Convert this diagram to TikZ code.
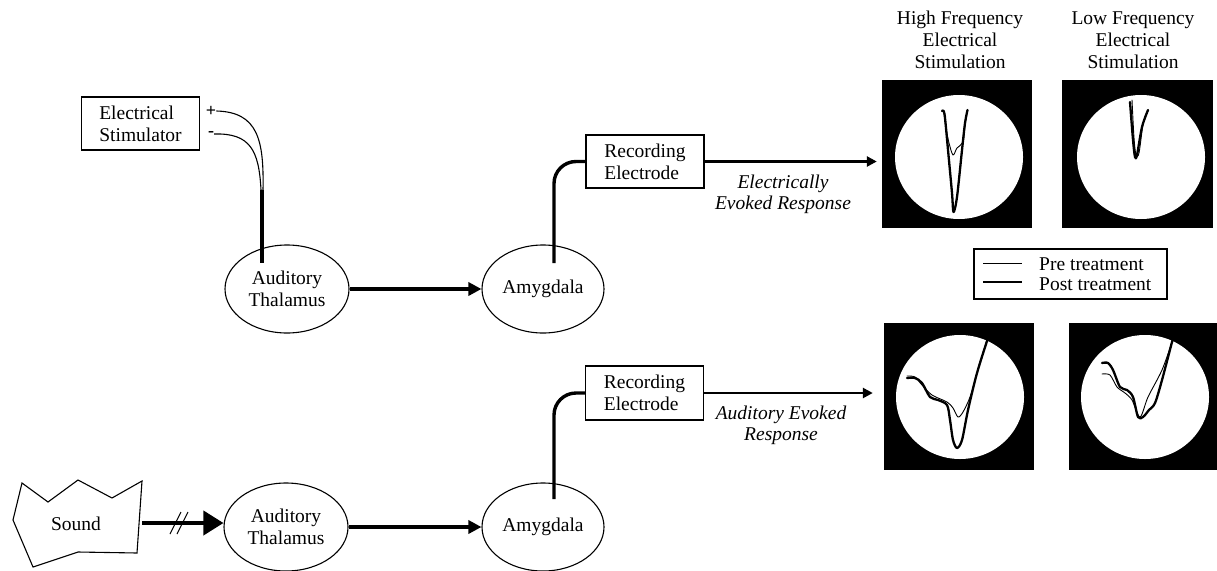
\documentclass[tikz,border=0pt]{standalone}
\usepackage{fontspec}
\setmainfont{Liberation Serif}
\usetikzlibrary{shapes.geometric,arrows.meta,calc}
\begin{document}
\begin{tikzpicture}[x=1pt,y=-1pt,
  txt/.style={font=\fontsize{19.5}{22}\selectfont, inner sep=0pt},
  itxt/.style={font=\fontsize{19.5}{21}\selectfont\itshape, inner sep=0pt, align=center},
  sign/.style={font=\fontsize{18}{18}\selectfont\bfseries, inner sep=0pt},
  brain/.style={ellipse, draw, line width=1.1pt, minimum width=124pt, minimum height=88pt, align=center, txt},
  boxnode/.style={draw, line width=1.1pt, align=left, txt, minimum height=53pt, minimum width=118pt},
  scopebox/.style={fill=black, minimum width=150pt, minimum height=148pt, inner sep=0pt},
  screen/.style={fill=white, ellipse, minimum width=128pt, minimum height=124pt, inner sep=0pt},
  wire/.style={line width=3.4pt},
  fine/.style={line width=1.1pt},
  bigarrow/.style={line width=3.8pt, -{Triangle[length=13pt,width=13pt]}},
  outarrow/.style={line width=2.6pt, -{Triangle[length=10pt,width=10pt]}},
  thicktrace/.style={line width=2.3pt, line join=round, line cap=round},
  thintrace/.style={line width=0.9pt, line join=round, line cap=round},
]
\useasboundingbox (0,0) rectangle (1217,570);

% ---------- top row ----------
\node[boxnode] (stim) at (140.5,123.5) {Electrical\\Stimulator};
\node[sign] (plus) at (211,111) {+};
\node[sign] (minus) at (211,134) {-};
\coordinate (junc) at (262,190);
\draw[fine] (plus.east) .. controls (258,112) and (264,140) .. (263,190);
\draw[fine] (minus.east) .. controls (250,133) and (259,150) .. (261,190);

\node[brain] (thal1) at (287,289) {Auditory\\Thalamus};
\node[brain, minimum width=122pt] (amyg1) at (543,289) {Amygdala};
\coordinate (thin1) at (262,263);
\draw[wire] (junc) -- (thin1);
\draw[bigarrow] (thal1.east) -- (amyg1.west);

\node[boxnode] (rec1) at (645,161.5) {Recording\\Electrode};
\coordinate (drop1) at (554,263);
\draw[wire, rounded corners=22pt] (rec1.west) -| (drop1);

\node[scopebox] (s1) at (957,154) {};
\node[scopebox, minimum width=151pt] (s2) at (1137.5,154) {};
\node[screen] (c1) at (959,157) {};
\node[screen] (c2) at (1141,157) {};
\draw[outarrow, shorten >=5pt] (rec1.east) -- (s1.west |- rec1.east);
\node[itxt] (lab1) at (783,194) {Electrically\\Evoked Response};

\node[txt, align=center] (t1) at (960,40) {High Frequency\\Electrical\\Stimulation};
\node[txt, align=center] (t2) at (1133,40) {Low Frequency\\Electrical\\Stimulation};

% HF traces
\draw[thicktrace] plot[smooth, tension=0.5] coordinates {(942,111) (944.5,114) (948,150) (952,193) (953.5,212) (957,197) (962,150) (965,123) (967.5,110)};
\draw[thintrace] plot[smooth, tension=0.5] coordinates {(944,113) (946,128) (949,143) (953,155) (957,148) (963,142) (965,125) (967,111)};
% LF traces
\draw[thicktrace] plot[smooth, tension=0.5] coordinates {(1130,102) (1133,140) (1135,157) (1137,155) (1142,127) (1148,110)};
\draw[thintrace] plot[smooth, tension=0.5] coordinates {(1132,100) (1134,138) (1136,155) (1139,153) (1143,124) (1146,114)};

% legend
\node[draw, fine, minimum width=193pt, minimum height=50pt, inner sep=0pt] (leg) at (1070.5,274) {};
\coordinate (la1) at (983,263);
\coordinate (lb1) at (1022,263);
\coordinate (la2) at (983,282);
\coordinate (lb2) at (1022,282);
\draw[thintrace, line cap=butt] (la1) -- (lb1);
\draw[thicktrace, line cap=butt] (la2) -- (lb2);
\node[txt, anchor=west] (lpre) at (1039,264) {Pre treatment};
\node[txt, anchor=west] (lpost) at (1039,284) {Post treatment};

% ---------- bottom row ----------
\draw[fine] (22,483) -- (48,502) -- (78,480) -- (112,498) -- (142,481) -- (137,553) -- (78,552) -- (33,567) -- (13,520) -- cycle;
\node[txt] (sound) at (76,524) {Sound};
\coordinate (soundR) at (142,523);

\node[brain] (thal2) at (286,527) {Auditory\\Thalamus};
\node[brain, minimum width=122pt] (amyg2) at (543,527) {Amygdala};
\draw[line width=3.8pt, -{Triangle[length=20pt,width=24pt]}] (soundR) -- (soundR -| thal2.west);
\coordinate (sl1a) at (170,534);
\coordinate (sl1b) at (181,512);
\coordinate (sl2a) at (177,534);
\coordinate (sl2b) at (188,512);
\draw[fine] (sl1a) -- (sl1b);
\draw[fine] (sl2a) -- (sl2b);
\draw[bigarrow] (thal2.east) -- (amyg2.west);

\node[boxnode, minimum height=54pt] (rec2) at (644.5,393) {Recording\\Electrode};
\coordinate (drop2) at (554,499);
\draw[wire, rounded corners=22pt] (rec2.west) -| (drop2);

\node[scopebox, minimum height=147pt] (s3) at (959,396.5) {};
\node[scopebox, minimum width=148pt, minimum height=147pt] (s4) at (1143,396.5) {};
\node[screen] (c3) at (960,397) {};
\node[screen] (c4) at (1145,397) {};
\draw[outarrow, shorten >=11pt] (rec2.east) -- (s3.west |- rec2.east);
\node[itxt] (lab2) at (781,425) {Auditory Evoked\\Response};

% bottom-left traces
\draw[thicktrace] plot[smooth, tension=0.5] coordinates {(907,378) (915,378) (922,383) (930,397) (938,400) (947,405) (950,420) (953,440) (957,448) (962,440) (968,410) (977,373) (988,338) (990,334)};
\draw[thintrace] plot[smooth, tension=0.5] coordinates {(907,376) (915,377) (922,385) (932,395) (947,402) (953,408) (958,417) (963,412) (970,397) (978,370) (987,340)};
% bottom-right traces
\draw[thicktrace] plot[smooth, tension=0.5] coordinates {(1102,363) (1108,363) (1113,370) (1120,387) (1127,390) (1133,397) (1138,417) (1143,417) (1149,410) (1155,403) (1162,380) (1172,342) (1174,336)};
\draw[thintrace] plot[smooth, tension=0.5] coordinates {(1102,374) (1110,375) (1117,387) (1125,393) (1132,400) (1140,417) (1148,397) (1162,370) (1172,342)};
\end{tikzpicture}
\end{document}
